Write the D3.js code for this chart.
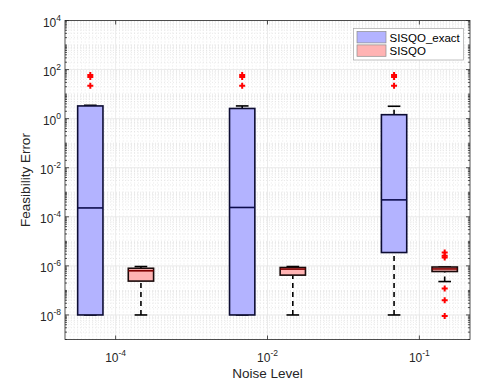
<!DOCTYPE html>
<meta charset="utf-8">
<body style="margin:0;background:#fff">
<style>
  text { font-family: "Liberation Sans", Arial, sans-serif; fill: #262626; }
  .tick-label { font-size: 12px; }
  .axis-title { font-size: 13.5px; }
  .legend-text { font-size: 11.5px; fill: #000; }
</style>
<svg width="503" height="382"></svg>
<script src="https://d3js.org/d3.v7.min.js"></script>
<script>

// Data
var tickExps = [-4, -2, -1];          // x tick labels 10^exp
var tickPos = [1.5, 4.5, 7.5];
var exactPos = [1, 4, 7];
var sisqoPos = [2, 5, 8];
var yTickExps = [-8, -6, -4, -2, 0, 2, 4];

// [lower whisker, q1, median, q3, upper whisker]
var exactStats = [
  [1e-8, 1e-8, 2.3e-4, 3.3, 3.5],
  [1e-8, 1e-8, 2.4e-4, 2.6, 3.3],
  [1e-8, 3.5e-6, 4.9e-4, 1.45, 3.2]
];
var exactOutliers = [[22, 50, 60], [22, 50, 60], [22, 50, 60]];

var sisqoStats = [
  [1e-8, 2.4e-7, 6.3e-7, 8e-7, 9.4e-7],
  [1e-8, 4.2e-7, 7.4e-7, 8.6e-7, 9.4e-7],
  [2.3e-7, 5.9e-7, 7.5e-7, 9e-7, 9e-7]
];
var sisqoOutliers = [[], [], [2.2e-6, 2.6e-6, 3.5e-6, 1.2e-7, 4e-8, 9e-9]];

var seriesNames = ["SISQO_exact", "SISQO"];

var svg = d3.select("svg");
var pL = 65, pR = 470, pT = 20.5, pB = 339.5;

var x = d3.scaleLinear().domain([0.5, 8.5]).range([pL, pR]);
var y = d3.scaleLog().domain([1e-9, 1e4]).range([pB, pT]);

// grid
var grid = svg.append("g");
var minorX = d3.range(0.525, 8.5, 0.075).filter(function (v) {
  return tickPos.every(function (t) { return Math.abs(t - v) > 0.01; });
});
grid.selectAll(".mx").data(minorX).enter().append("line")
  .attr("x1", d => x(d)).attr("x2", d => x(d))
  .attr("y1", pT).attr("y2", pB)
  .attr("stroke", "#dadada").attr("stroke-width", 0.6)
  .attr("stroke-dasharray", "1,2");

var minorY = [];
for (var e = -9; e < 4; e++) {
  for (var m = 1; m < 10; m++) {
    if (m === 1 && e % 2 === 0) continue;
    minorY.push(m * Math.pow(10, e));
  }
}
grid.selectAll(".my").data(minorY).enter().append("line")
  .attr("x1", pL).attr("x2", pR)
  .attr("y1", d => y(d)).attr("y2", d => y(d))
  .attr("stroke", "#dadada").attr("stroke-width", 0.6)
  .attr("stroke-dasharray", "1,2");

grid.selectAll(".gx").data(tickPos).enter().append("line")
  .attr("x1", d => x(d)).attr("x2", d => x(d))
  .attr("y1", pT).attr("y2", pB)
  .attr("stroke", "#e3e3e3").attr("stroke-width", 0.7);
grid.selectAll(".gy").data(yTickExps).enter().append("line")
  .attr("x1", pL).attr("x2", pR)
  .attr("y1", d => y(Math.pow(10, d))).attr("y2", d => y(Math.pow(10, d)))
  .attr("stroke", "#e3e3e3").attr("stroke-width", 0.7);

// boxes
var boxW = 0.5;
function drawBoxes(stats, pos, outl, fill, edge, medColor) {
  var g = svg.append("g");
  stats.forEach(function (s, i) {
    var cx = pos[i];
    var capL = x(cx - boxW / 4), capR = x(cx + boxW / 4);
    // whiskers
    [[s[0], s[1]], [s[3], s[4]]].forEach(function (w) {
      if (w[0] !== w[1]) {
        g.append("line")
          .attr("x1", x(cx)).attr("x2", x(cx))
          .attr("y1", y(w[0])).attr("y2", y(w[1]))
          .attr("stroke", "#000").attr("stroke-width", 1.6)
          .attr("stroke-dasharray", "5,4");
      }
    });
    [s[0], s[4]].forEach(function (c) {
      g.append("line")
        .attr("x1", capL).attr("x2", capR)
        .attr("y1", y(c)).attr("y2", y(c))
        .attr("stroke", "#000").attr("stroke-width", 1.6);
    });
    g.append("rect")
      .attr("x", x(cx - boxW / 2))
      .attr("y", y(s[3]))
      .attr("width", x(cx + boxW / 2) - x(cx - boxW / 2))
      .attr("height", Math.max(1, y(s[1]) - y(s[3])))
      .attr("fill", fill).attr("stroke", edge).attr("stroke-width", 1.6);
    g.append("line")
      .attr("x1", x(cx - boxW / 2)).attr("x2", x(cx + boxW / 2))
      .attr("y1", y(s[2])).attr("y2", y(s[2]))
      .attr("stroke", medColor).attr("stroke-width", 1.6);
    // outliers
    outl[i].forEach(function (o) {
      var px = x(cx), py = y(o), r = 3;
      g.append("path")
        .attr("d", "M" + (px - r) + "," + py + "H" + (px + r) + "M" + px + "," + (py - r) + "V" + (py + r))
        .attr("stroke", "#ff0000").attr("stroke-width", 2);
    });
  });
}
drawBoxes(exactStats, exactPos, exactOutliers, "#b3b3ff", "#0d0d33", "#0d0d4d");
drawBoxes(sisqoStats, sisqoPos, sisqoOutliers, "#ffb3b3", "#1a0a0a", "#800000");

// axes frame and ticks
var ax = svg.append("g").attr("stroke", "#262626").attr("stroke-width", 0.8);
ax.append("rect").attr("x", pL).attr("y", pT)
  .attr("width", pR - pL).attr("height", pB - pT)
  .attr("fill", "none");

var minorTicks = [];
for (var e2 = -9; e2 < 4; e2++) {
  for (var m2 = 2; m2 < 10; m2++) minorTicks.push(m2 * Math.pow(10, e2));
  if (e2 % 2 !== 0) minorTicks.push(Math.pow(10, e2));
}
minorTicks.forEach(function (v) {
  ax.append("line").attr("x1", pL).attr("x2", pL + 2).attr("y1", y(v)).attr("y2", y(v));
  ax.append("line").attr("x1", pR).attr("x2", pR - 2).attr("y1", y(v)).attr("y2", y(v));
});
yTickExps.forEach(function (d) {
  var v = Math.pow(10, d);
  ax.append("line").attr("x1", pL).attr("x2", pL + 4).attr("y1", y(v)).attr("y2", y(v));
  ax.append("line").attr("x1", pR).attr("x2", pR - 4).attr("y1", y(v)).attr("y2", y(v));
});
tickPos.forEach(function (t) {
  ax.append("line").attr("x1", x(t)).attr("x2", x(t)).attr("y1", pB).attr("y2", pB - 4);
  ax.append("line").attr("x1", x(t)).attr("x2", x(t)).attr("y1", pT).attr("y2", pT + 4);
});

// tick labels
yTickExps.forEach(function (d) {
  var t = svg.append("text").attr("class", "tick-label")
    .attr("x", pL - 4).attr("y", y(Math.pow(10, d)) + 6)
    .attr("text-anchor", "end");
  t.append("tspan").text("10");
  t.append("tspan").attr("dy", -6).attr("font-size", "8.5px").text(d);
});
tickExps.forEach(function (d, i) {
  var t = svg.append("text").attr("class", "tick-label")
    .attr("x", x(tickPos[i])).attr("y", pB + 22)
    .attr("text-anchor", "middle");
  t.append("tspan").text("10");
  t.append("tspan").attr("dy", -6).attr("font-size", "8.5px").text(d);
});

svg.append("text").attr("class", "axis-title")
  .attr("x", (pL + pR) / 2).attr("y", pB + 38.5)
  .attr("text-anchor", "middle").text("Noise Level");
svg.append("text").attr("class", "axis-title")
  .attr("transform", "translate(30," + ((pT + pB) / 2) + ") rotate(-90)")
  .attr("text-anchor", "middle").text("Feasibility Error");

// legend
var lg = svg.append("g").attr("transform", "translate(353.5,28.5)");
lg.append("rect").attr("width", 110).attr("height", 31.5)
  .attr("fill", "#fff").attr("stroke", "#a6a6a6").attr("stroke-width", 0.7);
var swatch = ["#b3b3ff", "#ffb3b3"];
seriesNames.forEach(function (n, i) {
  lg.append("rect").attr("x", 3.5).attr("y", 3 + i * 13.4)
    .attr("width", 29).attr("height", 11.4)
    .attr("fill", swatch[i]).attr("stroke", "#8c8c8c").attr("stroke-width", 0.7);
  lg.append("text").attr("class", "legend-text")
    .attr("x", 36).attr("y", 13.2 + i * 13.4).text(n);
});
</script>
</body>
